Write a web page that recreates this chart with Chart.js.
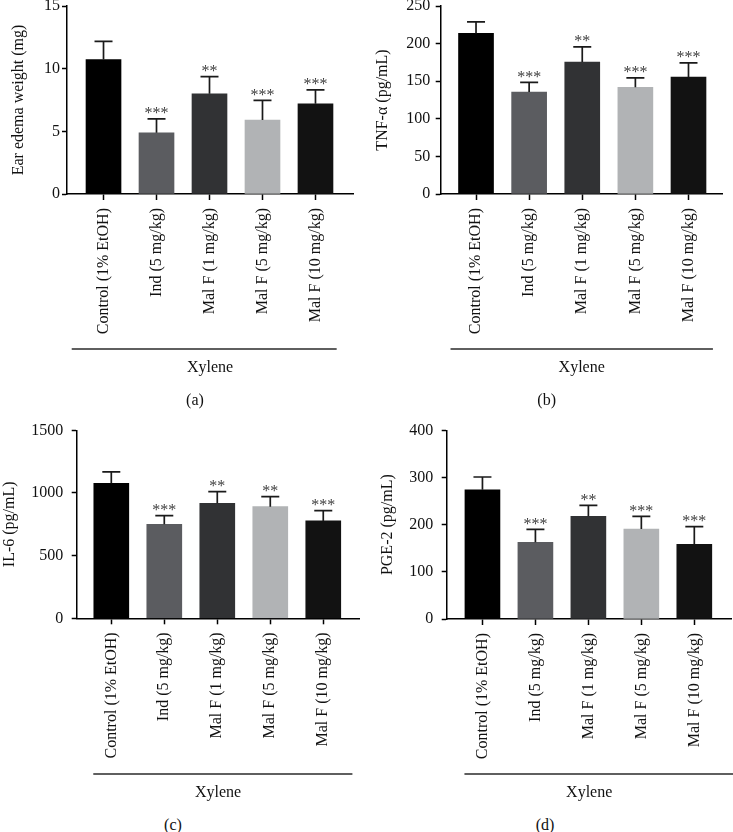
<!DOCTYPE html>
<html>
<head>
<meta charset="utf-8">
<title>Xylene-induced ear edema</title>
<script src="https://cdn.jsdelivr.net/npm/chart.js@4.4.1/dist/chart.umd.min.js"></script>
<style>
  html, body { margin: 0; padding: 0; background: #fff; overflow: hidden; }
  body { width: 733px; height: 832px; position: relative; }
  canvas { position: absolute; }
  .tag {
    position: absolute;
    font: 16px "Liberation Serif", "Times New Roman", serif;
    color: #111;
    transform: translate(-50%, -50%);
    white-space: nowrap;
  }
</style>
</head>
<body>
<canvas id="chartA"></canvas>
<canvas id="chartB"></canvas>
<canvas id="chartC"></canvas>
<canvas id="chartD"></canvas>

<script>
// Groups shown on every panel
const groupLabels = ['Control (1% EtOH)', 'Ind (5 mg/kg)', 'Mal F (1 mg/kg)', 'Mal F (5 mg/kg)', 'Mal F (10 mg/kg)'];

// (a) ear edema weight, mg
const earEdemaMean = [10.73, 4.88, 7.99, 5.9, 7.2];
const earEdemaSd = [1.44, 1.12, 1.38, 1.57, 1.11];
const earEdemaStars = ['', '***', '**', '***', '***'];
const earEdemaTicks = [0, 5, 10, 15];

// (b) TNF-alpha, pg/mL
const tnfMean = [213.5, 135.5, 175.4, 141.8, 155.4];
const tnfSd = [15.5, 12.9, 20.3, 12.7, 19.1];
const tnfStars = ['', '***', '**', '***', '***'];
const tnfTicks = [0, 50, 100, 150, 200, 250];

// (c) IL-6, pg/mL
const il6Mean = [1077, 750, 918, 891, 777];
const il6Sd = [91, 69, 93, 80, 82];
const il6Stars = ['', '***', '**', '**', '***'];
const il6Ticks = [0, 500, 1000, 1500];

// (d) PGE-2, pg/mL
const pge2Mean = [274, 162.5, 217.7, 190.8, 158.3];
const pge2Sd = [27, 27.5, 23.3, 26.9, 37.5];
const pge2Stars = ['', '***', '**', '***', '***'];
const pge2Ticks = [0, 100, 200, 300, 400];

const barColors = ['#000000', '#5b5c60', '#313234', '#b1b3b5', '#121212'];
const FONT = '"Liberation Serif", "Times New Roman", serif';

Chart.defaults.font.family = FONT;
Chart.defaults.font.size = 16;
Chart.defaults.color = '#111';

// SD whiskers (upper only) plus significance stars
const errorBarPlugin = {
  id: 'errorBars',
  afterDatasetsDraw(chart) {
    const { ctx } = chart;
    const yScale = chart.scales.y;
    const ds = chart.data.datasets[0];
    const meta = chart.getDatasetMeta(0);
    ctx.save();
    ctx.strokeStyle = '#1a1a1a';
    ctx.lineWidth = 1.7;
    ctx.font = '16px ' + FONT;
    ctx.fillStyle = '#404040';
    ctx.textAlign = 'center';
    ctx.textBaseline = 'alphabetic';
    meta.data.forEach((bar, i) => {
      const top = yScale.getPixelForValue(ds.mean[i] + ds.sd[i]);
      ctx.beginPath();
      ctx.moveTo(bar.x, bar.y);
      ctx.lineTo(bar.x, top);
      ctx.moveTo(bar.x - 9, top);
      ctx.lineTo(bar.x + 9, top);
      ctx.stroke();
      if (ds.stars[i]) {
        ctx.fillText(ds.stars[i], bar.x, top - 0.5);
      }
    });
    ctx.restore();
  }
};

// Line under the group labels that spans the "Xylene" treatment
const bracketPlugin = {
  id: 'bracket',
  afterDraw(chart, args, opts) {
    const { ctx } = chart;
    const xScale = chart.scales.x;
    const y = xScale.bottom - 31;
    ctx.save();
    ctx.strokeStyle = '#2a2a2a';
    ctx.lineWidth = 1.5;
    ctx.beginPath();
    ctx.moveTo(xScale.getPixelForValue(opts.from), y);
    ctx.lineTo(xScale.getPixelForValue(opts.to), y);
    ctx.stroke();
    ctx.restore();
  }
};

const panels = [
  {
    id: 'chartA', tag: '(a)', tagPos: [195, 400], title: 'Ear edema weight (mg)',
    mean: earEdemaMean, sd: earEdemaSd, stars: earEdemaStars, ticks: earEdemaTicks,
    box: { left: 0, top: -20, width: 366, height: 400 },
    area: { left: 67, top: 6, right: 353, bottom: 194 }, titleX: 18.3, yPad: 2,
    xRange: [-0.689, 4.708], bracket: [-0.6, 4.4]
  },
  {
    id: 'chartB', tag: '(b)', tagPos: [546.7, 400], title: 'TNF-α (pg/mL)',
    mean: tnfMean, sd: tnfSd, stars: tnfStars, ticks: tnfTicks,
    box: { left: 366, top: -20, width: 367, height: 400 },
    area: { left: 440.7, top: 6, right: 722.7, bottom: 194 }, titleX: 382.5, yPad: 5.5,
    xRange: [-0.665, 4.644], bracket: [-0.48, 4.46]
  },
  {
    id: 'chartC', tag: '(c)', tagPos: [173, 825], title: 'IL-6 (pg/mL)',
    mean: il6Mean, sd: il6Sd, stars: il6Stars, ticks: il6Ticks,
    box: { left: 0, top: 400, width: 366, height: 405 },
    area: { left: 76.7, top: 430.3, right: 359.3, bottom: 618.3 }, titleX: 9.6, yPad: 8.5,
    xRange: [-0.653, 4.68], bracket: [-0.34, 4.55]
  },
  {
    id: 'chartD', tag: '(d)', tagPos: [545, 825], title: 'PGE-2 (pg/mL)',
    mean: pge2Mean, sd: pge2Sd, stars: pge2Stars, ticks: pge2Ticks,
    box: { left: 366, top: 400, width: 367, height: 405 },
    area: { left: 446.7, top: 430.3, right: 731.7, bottom: 619 }, titleX: 387.5, yPad: 8.5,
    xRange: [-0.675, 4.706], bracket: [-0.34, 4.75]
  }
];

function drawPanel(p) {
  const canvas = document.getElementById(p.id);
  canvas.width = p.box.width;
  canvas.height = p.box.height;
  canvas.style.left = p.box.left + 'px';
  canvas.style.top = p.box.top + 'px';

  const titleHalf = 9.6; // half line height of a 16px title
  const padLeft = Math.max(p.titleX - titleHalf - p.box.left, 0);
  const yWidth = p.area.left - p.box.left - padLeft;
  const xHeight = p.box.top + p.box.height - p.area.bottom;

  new Chart(canvas, {
    type: 'bar',
    data: {
      datasets: [{
        data: p.mean.map((v, i) => ({ x: i, y: v })),
        mean: p.mean,
        sd: p.sd,
        stars: p.stars,
        backgroundColor: barColors,
        borderWidth: 0,
        barThickness: 35
      }]
    },
    options: {
      responsive: false,
      animation: false,
      events: [],
      layout: {
        padding: {
          left: padLeft,
          top: p.area.top - p.box.top,
          right: p.box.left + p.box.width - p.area.right,
          bottom: 0
        }
      },
      plugins: {
        legend: { display: false },
        tooltip: { enabled: false },
        bracket: { from: p.bracket[0], to: p.bracket[1] }
      },
      scales: {
        x: {
          type: 'linear',
          offset: false,
          min: p.xRange[0],
          max: p.xRange[1],
          afterBuildTicks: s => {
            s.ticks = s.ticks.filter(t => Number.isInteger(t.value) && t.value >= 0 && t.value < groupLabels.length);
          },
          afterFit: s => { s.height = xHeight; },
          ticks: {
            stepSize: 1,
            autoSkip: false,
            minRotation: 90,
            maxRotation: 90,
            padding: 8,
            color: '#111',
            font: { size: 16 },
            callback: v => groupLabels[v] ?? ''
          },
          grid: { offset: false, drawOnChartArea: false, tickLength: 6, tickColor: '#000', tickWidth: 1.5 },
          border: { color: '#000', width: 1.5 },
          title: {
            display: true,
            text: 'Xylene',
            color: '#111',
            font: { size: 16 },
            padding: { top: 0, bottom: 2.4 }
          }
        },
        y: {
          min: p.ticks[0],
          max: p.ticks[p.ticks.length - 1],
          afterFit: s => { s.width = yWidth; },
          ticks: {
            stepSize: p.ticks[1] - p.ticks[0],
            padding: p.yPad,
            color: '#111',
            font: { size: 16 },
            callback: v => String(v)
          },
          grid: { drawOnChartArea: false, tickLength: 5, tickColor: '#000', tickWidth: 1.5 },
          border: { color: '#000', width: 1.5 },
          title: {
            display: true,
            text: p.title,
            color: '#111',
            font: { size: 16 },
            padding: { top: 0, bottom: 0 }
          }
        }
      }
    },
    plugins: [errorBarPlugin, bracketPlugin]
  });

  const tag = document.createElement('div');
  tag.className = 'tag';
  tag.textContent = p.tag;
  tag.style.left = p.tagPos[0] + 'px';
  tag.style.top = p.tagPos[1] + 'px';
  document.body.appendChild(tag);
}

panels.forEach(drawPanel);
</script>
</body>
</html>
